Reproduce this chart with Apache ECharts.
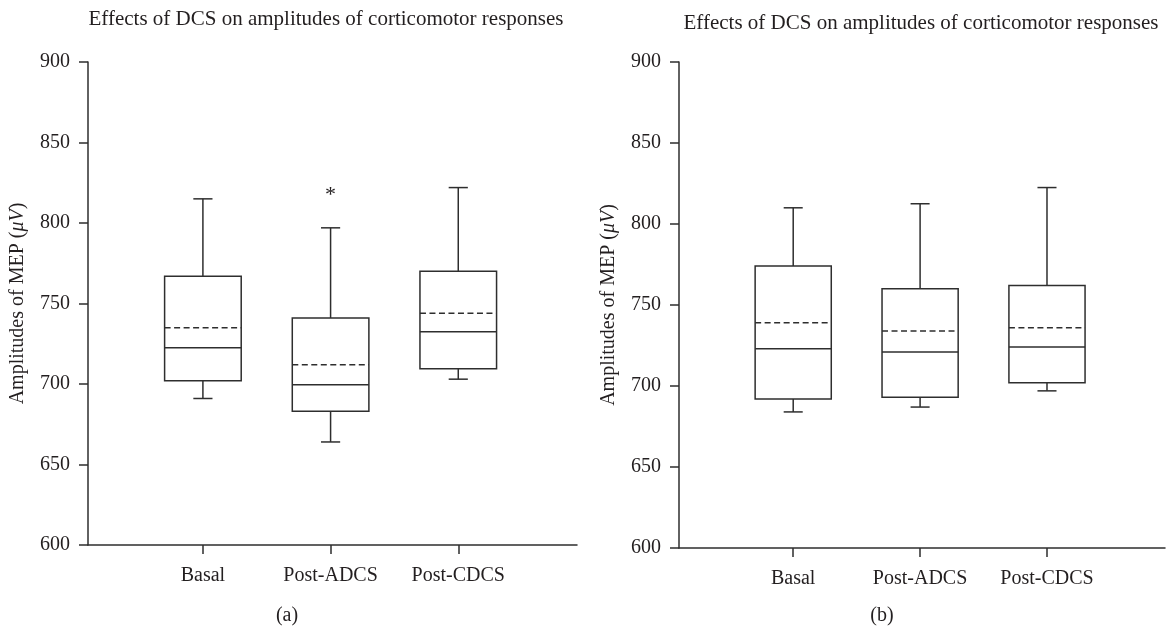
<!DOCTYPE html>
<html>
<head>
<meta charset="utf-8">
<script src="https://cdn.jsdelivr.net/npm/echarts@6/dist/echarts.min.js"></script>
<style>
html,body{margin:0;padding:0;background:#fff;}
#chart{width:1167px;height:626px;}
</style>
</head>
<body>
<div id="chart"></div>
<script>
// ---- data ----
const categories = ['Basal', 'Post-ADCS', 'Post-CDCS'];
const chartTitle = 'Effects of DCS on amplitudes of corticomotor responses';
const panelLabels = ['(a)', '(b)'];
const yMin = 600, yMax = 900, yStep = 50;

// panel (a)
const aLow    = [691, 664, 703];
const aQ1     = [702, 683, 709.5];
const aMedian = [722.5, 699.5, 732.5];
const aQ3     = [767, 741, 770];
const aHigh   = [815, 797, 822];
const aMean   = [735, 712, 744];
const aMarks  = ['', '*', ''];

// panel (b)
const bLow    = [684, 687, 697];
const bQ1     = [692, 693, 702];
const bMedian = [723, 721, 724];
const bQ3     = [774, 760, 762];
const bHigh   = [810, 812.5, 822.5];
const bMean   = [739, 734, 736];
const bMarks  = ['', '', ''];

// ---- styles ----
const FONT = '"Liberation Serif", "DejaVu Serif", serif';
const INK = '#231f20';
const LINE = '#2e2e2e';

function buildData(low, q1, med, q3, high, mean) {
  return categories.map((c, i) => [i + 1, low[i], q1[i], med[i], q3[i], high[i], mean[i]]);
}

function makeRender(marks) {
  return function (params, api) {
    const x = api.value(0);
    const pLow = api.coord([x, api.value(1)]);
    const pQ1 = api.coord([x, api.value(2)]);
    const pMed = api.coord([x, api.value(3)]);
    const pQ3 = api.coord([x, api.value(4)]);
    const pHigh = api.coord([x, api.value(5)]);
    const pMean = api.coord([x, api.value(6)]);
    const cx = pMed[0];
    const bw = api.size([0.6, 0])[0];
    const cw = api.size([0.15, 0])[0];
    const st = { stroke: LINE, lineWidth: 1.5, fill: null };
    const children = [
      { type: 'line', shape: { x1: cx, y1: pQ3[1], x2: cx, y2: pHigh[1] }, style: st },
      { type: 'line', shape: { x1: cx - cw / 2, y1: pHigh[1], x2: cx + cw / 2, y2: pHigh[1] }, style: st },
      { type: 'line', shape: { x1: cx, y1: pQ1[1], x2: cx, y2: pLow[1] }, style: st },
      { type: 'line', shape: { x1: cx - cw / 2, y1: pLow[1], x2: cx + cw / 2, y2: pLow[1] }, style: st },
      { type: 'rect', shape: { x: cx - bw / 2, y: pQ3[1], width: bw, height: pQ1[1] - pQ3[1] }, style: { stroke: LINE, lineWidth: 1.5, fill: '#fff' } },
      { type: 'line', shape: { x1: cx - bw / 2, y1: pMed[1], x2: cx + bw / 2, y2: pMed[1] }, style: st },
      { type: 'line', shape: { x1: cx - bw / 2, y1: pMean[1], x2: cx + bw / 2, y2: pMean[1] }, style: { stroke: LINE, lineWidth: 1.5, lineDash: [6, 3.5] } }
    ];
    const m = marks[params.dataIndex];
    if (m) {
      children.push({
        type: 'text',
        style: { text: m, x: cx, y: pHigh[1] - 33, align: 'center', verticalAlign: 'middle', font: '22px ' + FONT, fill: INK }
      });
    }
    return { type: 'group', children: children };
  };
}

function xAxisCfg(idx) {
  return {
    type: 'value', gridIndex: idx, min: 0.1, max: 3.93,
    splitLine: { show: false },
    axisLine: { lineStyle: { color: LINE, width: 1.5 } },
    axisTick: { customValues: [1, 2, 3], length: 9, lineStyle: { color: LINE, width: 1.5 } },
    axisLabel: {
      customValues: [1, 2, 3], margin: 21, color: INK, fontFamily: FONT, fontSize: 20,
      formatter: v => categories[Math.round(v) - 1] || ''
    }
  };
}

function yAxisCfg(idx) {
  return {
    type: 'value', gridIndex: idx, min: yMin, max: yMax, interval: yStep,
    splitLine: { show: false },
    axisLine: { show: true, lineStyle: { color: LINE, width: 1.5 } },
    axisTick: { show: true, length: 9, lineStyle: { color: LINE, width: 1.5 } },
    axisLabel: { margin: 18, color: INK, fontFamily: FONT, fontSize: 20 },
    name: 'Amplitudes of MEP ({i|μV})',
    nameLocation: 'middle', nameRotate: 90, nameGap: 60,
    nameTextStyle: {
      color: INK, fontFamily: FONT, fontSize: 20,
      rich: { i: { fontStyle: 'italic', fontFamily: FONT, fontSize: 20, color: INK } }
    }
  };
}

const chart = echarts.init(document.getElementById('chart'), null, { renderer: 'canvas' });
chart.setOption({
  backgroundColor: '#fff',
  animation: false,
  title: [
    { text: chartTitle, left: 321, top: 4, textAlign: 'center', textStyle: { fontFamily: FONT, fontSize: 21, fontWeight: 'normal', color: INK } },
    { text: chartTitle, left: 916, top: 8, textAlign: 'center', textStyle: { fontFamily: FONT, fontSize: 21, fontWeight: 'normal', color: INK } },
    { text: panelLabels[0], left: 282, top: 601, textAlign: 'center', textStyle: { fontFamily: FONT, fontSize: 20, fontWeight: 'normal', color: INK } },
    { text: panelLabels[1], left: 877, top: 601, textAlign: 'center', textStyle: { fontFamily: FONT, fontSize: 20, fontWeight: 'normal', color: INK } }
  ],
  grid: [
    { left: 88, top: 62, width: 489, height: 483 },
    { left: 679, top: 62, width: 486, height: 486 }
  ],
  xAxis: [xAxisCfg(0), xAxisCfg(1)],
  yAxis: [yAxisCfg(0), yAxisCfg(1)],
  series: [
    { type: 'custom', xAxisIndex: 0, yAxisIndex: 0, renderItem: makeRender(aMarks), data: buildData(aLow, aQ1, aMedian, aQ3, aHigh, aMean), clip: false },
    { type: 'custom', xAxisIndex: 1, yAxisIndex: 1, renderItem: makeRender(bMarks), data: buildData(bLow, bQ1, bMedian, bQ3, bHigh, bMean), clip: false }
  ]
});
</script>
</body>
</html>
